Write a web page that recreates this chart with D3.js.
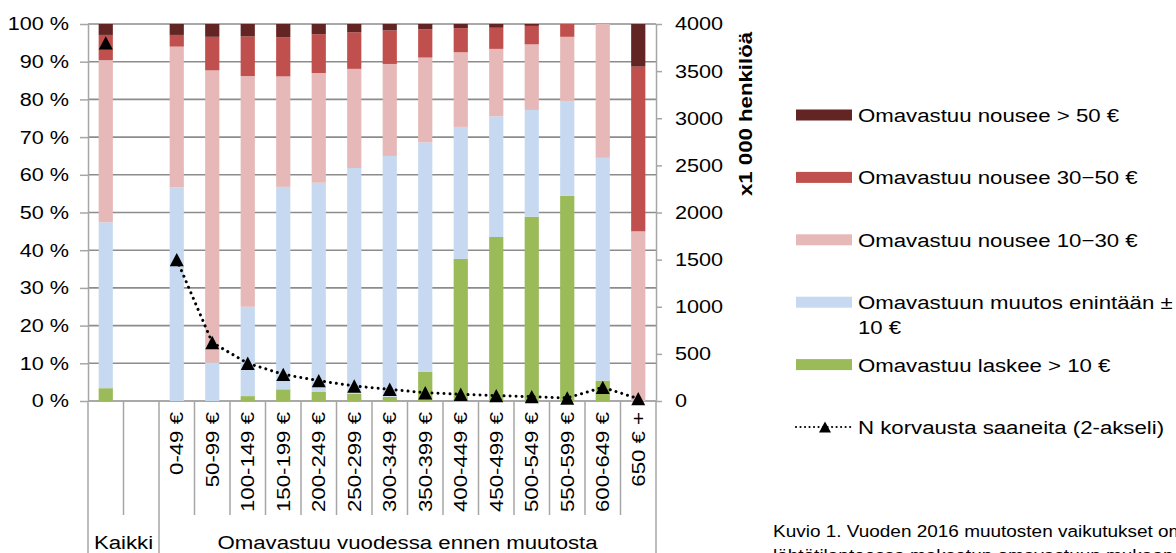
<!DOCTYPE html>
<html><head><meta charset="utf-8">
<script src="https://cdn.jsdelivr.net/npm/d3@7"></script>
<style>
body{margin:0;background:#fff;overflow:hidden}
text{font-family:"Liberation Sans",Arial,sans-serif;fill:#000}
</style></head>
<body><svg id="c" width="1176" height="553"></svg>
<script>
// ---- data ----
const categories = ["Kaikki", "", "0-49 €", "50-99 €", "100-149 €", "150-199 €", "200-249 €", "250-299 €",
  "300-349 €", "350-399 €", "400-449 €", "450-499 €", "500-549 €", "550-599 €", "600-649 €", "650 € +"];
const groupLabels = ["Kaikki", "Omavastuu vuodessa ennen muutosta"];
// shares in %, bottom to top
const laskee   = [3.4, null, 0,    0,    1.3,  3.1,  2.4,  1.9,  1.1,  7.8,  37.7, 43.5, 48.9, 54.4, 5.4,  0];
const muutos   = [44.0, null, 56.7, 10.2, 23.7, 53.7, 55.5, 59.9, 63.9, 60.8, 35.0, 32.0, 28.3, 25.2, 59.1, 0];
const nousee10 = [43.0, null, 37.3, 77.5, 61.2, 29.3, 29.1, 26.3, 24.4, 22.5, 19.8, 17.9, 17.4, 17.0, 35.5, 45.0];
const nousee30 = [6.7, null, 3.1,  8.9,  10.5, 10.4, 10.3, 9.7,  8.9,  7.5,  6.4,  5.6,  4.9,  3.4,  0,    43.7];
const nousee50 = [2.9, null, 2.9,  3.4,  3.3,  3.5,  2.7,  2.2,  1.7,  1.4,  1.1,  1.0,  0.5,  0,    0,    11.3];
const nCount   = [3800, null, 1500, 620, 400, 283, 216, 159, 124, 88, 71, 57, 46, 32, 145, 25];
const seriesNames = ["Omavastuu laskee > 10 €", "Omavastuun muutos enintään ± 10 €", "Omavastuu nousee 10−30 €",
  "Omavastuu nousee 30−50 €", "Omavastuu nousee > 50 €"];
const lineName = "N korvausta saaneita (2-akseli)";
const pctTicks = [0, 10, 20, 30, 40, 50, 60, 70, 80, 90, 100];
const nTicks = [0, 500, 1000, 1500, 2000, 2500, 3000, 3500, 4000];
const rightTitle = "x1 000 henkilöä";
const caption = ["Kuvio 1. Vuoden 2016 muutosten vaikutukset omavastuisiin", "lähtötilanteessa maksetun omavastuun mukaan"];

// ---- styling ----
const colors = ["#9bbb59", "#c6d9f1", "#e6b9b8", "#c0504d", "#632523"];
const SX = 1.17, FS = 19;
const svg = d3.select("#c");
const L = 88, R = 656, T = 24, B = 401;

const x = d3.scaleBand().domain(d3.range(categories.length)).range([L, R]).padding(0);
const y = d3.scaleLinear().domain([0, 100]).range([B, T]);
const y2 = d3.scaleLinear().domain([0, 4000]).range([B, T]);

function txt(g, px, py, s, o = {}) {
  const t = g.append("text")
    .attr("transform", `translate(${px},${py}) rotate(${o.rot || 0}) scale(${o.sx || SX},1)`)
    .attr("text-anchor", o.anchor || "start")
    .style("font-size", (o.fs || FS) + "px")
    .text(s);
  if (o.dy) t.attr("dy", o.dy);
  if (o.bold) t.style("font-weight", "bold");
  return t;
}

// gridlines
svg.append("g").selectAll("line").data(pctTicks).join("line")
  .attr("x1", L).attr("x2", R).attr("y1", d => y(d)).attr("y2", d => y(d))
  .attr("stroke", "#8c8c8c").attr("stroke-width", 1.6);

// left axis
const ga = svg.append("g").attr("transform", `translate(${L},0)`)
  .call(d3.axisLeft(y).tickValues(pctTicks).tickSize(8).tickSizeOuter(0).tickFormat(d => d + " %"));
ga.select(".domain").attr("stroke", "#a6a6a6").attr("stroke-width", 1.5);
ga.selectAll(".tick line").attr("stroke", "#a6a6a6").attr("stroke-width", 1.5);
ga.selectAll(".tick text").remove();
pctTicks.forEach(d => txt(svg, 69, y(d), d + " %", {anchor: "end", dy: "0.35em", fs: 18.5}));

// right axis
const gr = svg.append("g").attr("transform", `translate(${R},0)`)
  .call(d3.axisRight(y2).tickValues(nTicks).tickSize(6).tickSizeOuter(0));
gr.select(".domain").attr("stroke", "#a6a6a6").attr("stroke-width", 1.5);
gr.selectAll(".tick line").attr("stroke", "#a6a6a6").attr("stroke-width", 1.5);
gr.selectAll(".tick text").remove();
nTicks.forEach(d => txt(svg, 675, y2(d), String(d), {dy: "0.35em", fs: 18.5}));
txt(svg, 745, 114, rightTitle, {rot: -90, anchor: "middle", dy: "0.35em", bold: true});

// category separators
const bounds = d3.range(categories.length + 1);
svg.append("g").selectAll("line").data(bounds).join("line")
  .attr("x1", i => L + i * x.step()).attr("x2", i => L + i * x.step())
  .attr("y1", B).attr("y2", i => (i === 0 || i === 2 || i === categories.length) ? 553 : 515)
  .attr("stroke", "#a6a6a6").attr("stroke-width", 1.5);

// stacked bars
const series = [laskee, muutos, nousee10, nousee30, nousee50];
const rows = categories.map((c, i) => {
  const o = {i};
  series.forEach((s, k) => o["s" + k] = s[i] || 0);
  return o;
});
const stack = d3.stack().keys(series.map((s, k) => "s" + k))(rows);
const bw = x.bandwidth() * 0.4;
svg.append("g").selectAll("g").data(stack).join("g").attr("fill", (d, k) => colors[k])
  .selectAll("rect").data(d => d.filter(p => p[1] - p[0] > 0)).join("rect")
  .attr("x", p => x(p.data.i) + (x.bandwidth() - bw) / 2)
  .attr("width", bw)
  .attr("y", p => y(p[1]))
  .attr("height", p => y(p[0]) - y(p[1]));

// line
const line = d3.line().defined(d => d.v != null).x(d => x(d.i) + x.bandwidth() / 2).y(d => y2(d.v));
const pts = nCount.map((v, i) => ({i, v}));
svg.append("path").attr("d", line(pts)).attr("fill", "none").attr("stroke", "#000")
  .attr("stroke-width", 3).attr("stroke-linecap", "round").attr("stroke-dasharray", "0.01 6");
const tri = "M0,-6.7L7,6.7L-7,6.7Z";
svg.append("g").selectAll("path").data(pts.filter(d => d.v != null)).join("path")
  .attr("d", tri).attr("fill", "#000")
  .attr("transform", d => `translate(${x(d.i) + x.bandwidth() / 2},${y2(d.v)})`);

// category labels
categories.forEach((c, i) => {
  if (i < 2) return;
  txt(svg, x(i) + x.bandwidth() / 2, 412, c, {rot: -90, anchor: "end", dy: "0.35em"});
});
txt(svg, (x(0) + x(1) + x.bandwidth()) / 2, 549, groupLabels[0], {anchor: "middle"});
txt(svg, (x(2) + R) / 2, 549, groupLabels[1], {anchor: "middle"});

// legend
const lg = svg.append("g");
const legOrder = [4, 3, 2, 1, 0];
const ly = i => 115 + i * 62.4;
const legLines = [["Omavastuu nousee > 50 €"], ["Omavastuu nousee 30−50 €"], ["Omavastuu nousee 10−30 €"],
  ["Omavastuun muutos enintään ±", "10 €"], ["Omavastuu laskee > 10 €"]];
legOrder.forEach((k, i) => {
  lg.append("rect").attr("x", 796).attr("y", ly(i) - 5.5).attr("width", 56).attr("height", 11).attr("fill", colors[k]);
  legLines[i].forEach((s, j) => txt(lg, 858, ly(i) + 7 + j * 25, s));
});
const li = 5;
lg.append("line").attr("x1", 796).attr("x2", 852).attr("y1", ly(li)).attr("y2", ly(li))
  .attr("stroke", "#000").attr("stroke-width", 2.2).attr("stroke-linecap", "round").attr("stroke-dasharray", "0.01 4.5");
lg.append("path").attr("d", "M0,-5.5L6,5.5L-6,5.5Z").attr("transform", `translate(825,${ly(li)})`);
txt(lg, 858, ly(li) + 7, lineName);

// caption (cut off by the right/bottom edge, as in the reference)
caption.forEach((s, j) => txt(svg, 773, 537 + j * 24, s, {fs: 16.5, sx: 1.15}));
</script></body></html>
